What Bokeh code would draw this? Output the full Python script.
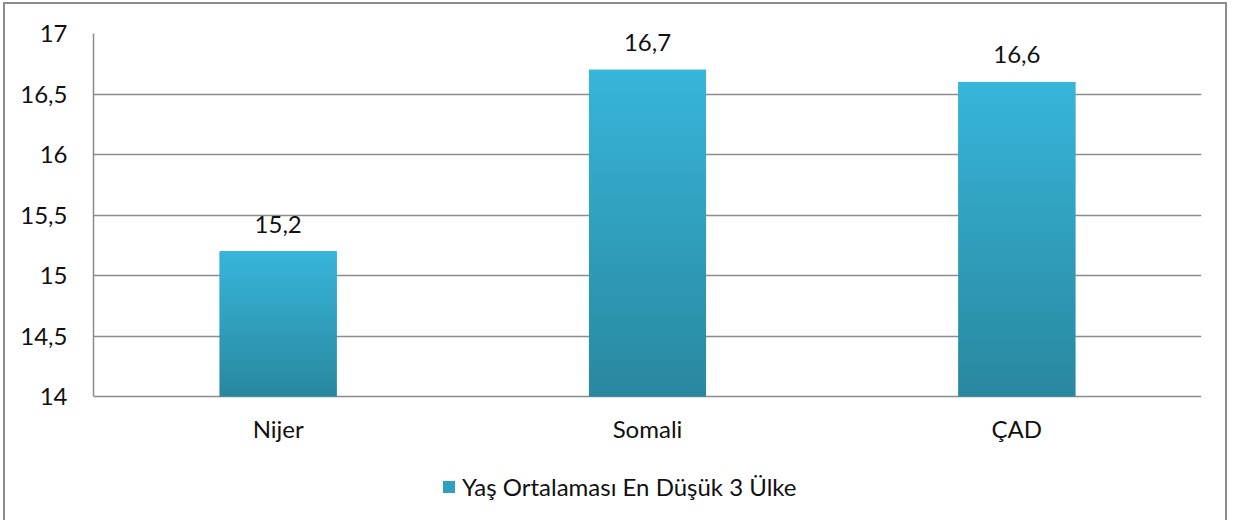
import numpy as np
from bokeh.plotting import figure
from bokeh.models import (Range1d, FixedTicker, CustomJSTickFormatter, Legend,
                          LegendItem, ColumnDataSource)
from bokeh.core.properties import value
from bokeh.embed import file_html
from bokeh.resources import INLINE

# ---- data ----
categories = ["Nijer", "Somali", "ÇAD"]
values = [15.2, 16.7, 16.6]
value_labels = ["15,2", "16,7", "16,6"]
y_ticks = [14, 14.5, 15, 15.5, 16, 16.5, 17]
series_name = "Yaş Ortalaması En Düşük 3 Ülke"

# ---- style / layout ----
FONT = "Lato"
FS = "24px"
TEXT = "#111111"
GRID = "#8c8c8c"
TOP = (0x37, 0xb5, 0xda)
BOT = (0x29, 0x88, 0x9f)
MID = "#30a0c0"
BAR_W = 0.317
Y0, Y1 = y_ticks[0], y_ticks[-1]

W, H = 1224, 518
B_LEFT, B_RIGHT, B_TOP, B_BOTTOM = 88, 28, 29, 0
AXIS_PX = 363                       # pixel height of the 14..17 band
frame_h = H - B_TOP - B_BOTTOM
y_start = Y1 - (Y1 - Y0) * frame_h / AXIS_PX   # frame extends below 14 for labels/legend

xs = [i + 0.5 for i in range(len(categories))]

p = figure(width=W, height=H, output_backend="svg", toolbar_location=None,
           x_range=Range1d(0, len(categories)), y_range=Range1d(y_start, Y1),
           x_axis_location=None,
           min_border_left=B_LEFT, min_border_right=B_RIGHT, min_border_top=B_TOP,
           min_border_bottom=B_BOTTOM)
p.styles = {"margin-left": "3px", "margin-top": "2px",
            "border-left": "2px solid #8c8c8c", "border-top": "2px solid #8c8c8c",
            "border-right": "2px solid #8c8c8c"}
p.outline_line_color = None
p.background_fill_color = "white"
p.border_fill_color = "white"

# bars
src = ColumnDataSource(dict(x=xs, top=values, cat=categories, lab=value_labels,
                            base=[Y0] * len(xs)))
bars = p.vbar(x="x", top="top", bottom=Y0, width=BAR_W, source=src,
              fill_color=MID, line_color=None)

# gradient overlay (per bar, from dark bottom to light top)
n = 128
t = np.linspace(0, 1, n)
grad = np.zeros((n, 1, 4), dtype=np.uint8)
for k in range(3):
    grad[:, 0, k] = np.round(BOT[k] + (TOP[k] - BOT[k]) * t).astype(np.uint8)
grad[:, 0, 3] = 255
img = grad.view(np.uint32).reshape(n, 1)
gsrc = ColumnDataSource(dict(image=[img] * len(values),
                             x=[xv - BAR_W / 2 for xv in xs],
                             y=[Y0] * len(values),
                             dw=[BAR_W] * len(values),
                             dh=[v - Y0 for v in values]))
p.image_rgba(image="image", x="x", y="y", dw="dw", dh="dh", source=gsrc)

# value labels
p.text(x="x", y="top", text="lab", source=src, text_align="center",
       text_baseline="alphabetic", y_offset=-27, text_font=value(FONT),
       text_font_size=FS, text_color=TEXT)

# category labels (under the 14 line)
p.text(x="x", y="base", text="cat", source=src, text_align="center",
       text_baseline="alphabetic", y_offset=32, text_font=value(FONT),
       text_font_size=FS, text_color=TEXT)

# y axis
yax = p.yaxis[0]
yax.ticker = FixedTicker(ticks=y_ticks)
yax.formatter = CustomJSTickFormatter(code="return tick.toString().replace('.', ',');")
yax.bounds = (Y0, Y1)
yax.major_tick_in = 0
yax.major_tick_out = 0
yax.minor_tick_in = 0
yax.minor_tick_out = 0
yax.axis_line_color = GRID
yax.axis_line_width = 1.5
yax.major_label_text_font = FONT
yax.major_label_text_font_size = FS
yax.major_label_text_color = TEXT
yax.major_label_standoff = 26

p.xgrid.grid_line_color = None
p.ygrid.ticker = FixedTicker(ticks=y_ticks)
p.ygrid.grid_line_color = GRID
p.ygrid.grid_line_width = 1.5

legend = Legend(items=[LegendItem(label=series_name, renderers=[bars])],
                location=(348, 21), orientation="horizontal",
                glyph_width=15, glyph_height=15, label_standoff=6,
                padding=0, margin=0, border_line_color=None,
                background_fill_alpha=0, label_text_font=FONT,
                label_text_font_size=FS, label_text_color=TEXT)
p.add_layout(legend)

open("out.html", "w").write(file_html(p, INLINE))
